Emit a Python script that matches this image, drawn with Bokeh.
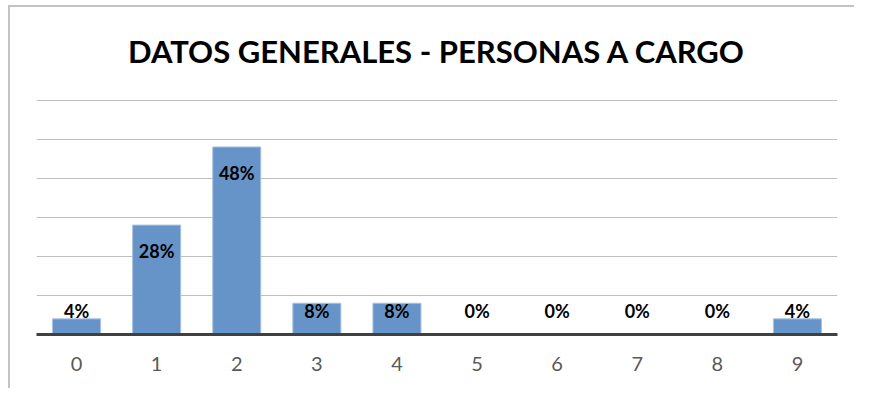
from bokeh.plotting import figure
from bokeh.models import ColumnDataSource, FactorRange, Range1d, LabelSet, FixedTicker
from bokeh.core.properties import value
from bokeh.embed import file_html
from bokeh.resources import INLINE

categories = ["0", "1", "2", "3", "4", "5", "6", "7", "8", "9"]
percentages = [4, 28, 48, 8, 8, 0, 0, 0, 0, 4]
y_ticks = [0, 10, 20, 30, 40, 50, 60]
title_text = "DATOS GENERALES - PERSONAS A CARGO"

labels = [f"{v}%" for v in percentages]
label_y = [max(v - 6.6, 6.1) for v in percentages]

src = ColumnDataSource(dict(cat=categories, val=percentages, lab=labels, ly=label_y))

p = figure(width=854, height=388, x_range=FactorRange(*categories),
           y_range=Range1d(0, 60.4), output_backend="svg", toolbar_location=None,
           min_border_left=36, min_border_right=17, min_border_top=98,
           min_border_bottom=54, title=title_text)
line_col = "#c3c3c3"
p.styles = {
    "background": (f"linear-gradient({line_col},{line_col}) 8px 5px / 2px 100% no-repeat, "
                   f"linear-gradient({line_col},{line_col}) 8px 5px / 100% 2px no-repeat, white"),
}

p.title.align = "center"
p.title.text_font = "Lato"
p.title.text_font_style = "bold"
p.title.text_font_size = "31px"
p.title.text_color = "#000000"
p.title.standoff = 57

p.outline_line_color = None
p.background_fill_color = "white"
p.border_fill_color = None

p.vbar(x="cat", top="val", width=0.6, source=src, fill_color="#6794C8",
       line_color="#a9c2e2", line_width=1)

p.add_layout(LabelSet(x="cat", y="ly", text="lab", source=src, text_align="center",
                      text_baseline="middle", text_font=value("Lato"),
                      text_font_style="bold", text_font_size="18px", text_color="#000000"))

p.yaxis.visible = False
p.ygrid.ticker = FixedTicker(ticks=y_ticks)
p.ygrid.grid_line_color = "#bfbfbf"
p.ygrid.grid_line_width = 1
p.xgrid.grid_line_color = None

xa = p.xaxis[0]
xa.axis_line_color = "#404040"
xa.axis_line_width = 3
xa.major_tick_line_color = None
xa.minor_tick_line_color = None
xa.major_label_text_font = "Lato"
xa.major_label_text_font_size = "20px"
xa.major_label_text_color = "#595959"
xa.major_label_standoff = 16

open("out.html", "w").write(file_html(p, INLINE))
